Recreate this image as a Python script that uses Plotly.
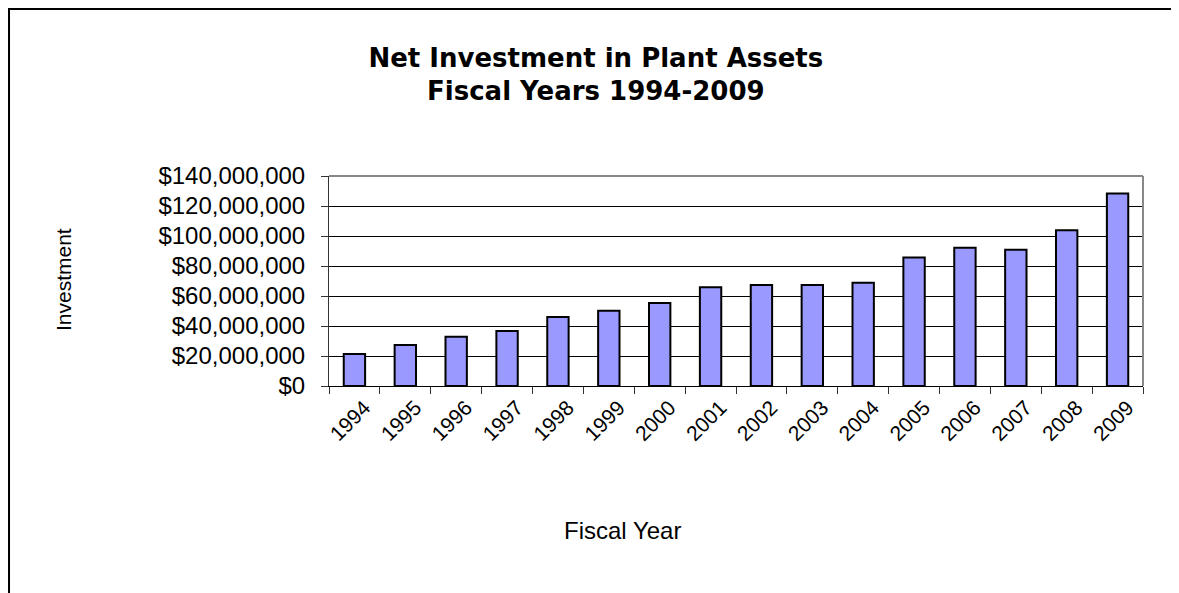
import plotly.graph_objects as go

years = ["1994", "1995", "1996", "1997", "1998", "1999", "2000", "2001",
         "2002", "2003", "2004", "2005", "2006", "2007", "2008", "2009"]
investment = [21.3e6, 27.3e6, 32.9e6, 36.7e6, 46.0e6, 50.2e6, 55.3e6, 65.8e6,
              67.3e6, 67.3e6, 68.9e6, 85.6e6, 92.2e6, 90.9e6, 103.8e6, 128.4e6]
y_ticks = [0, 20e6, 40e6, 60e6, 80e6, 100e6, 120e6, 140e6]
y_tick_labels = ["$0", "$20,000,000", "$40,000,000", "$60,000,000", "$80,000,000",
                 "$100,000,000", "$120,000,000", "$140,000,000"]

font_family = "Liberation Sans, Arial, sans-serif"

fig = go.Figure()

fig.add_trace(go.Bar(
    x=years,
    y=investment,
    marker=dict(color="#9999FF", line=dict(color="black", width=2)),
    name="Investment",
))

fig.update_layout(
    width=1171,
    height=585,
    margin=dict(l=321, r=36, t=168, b=207),
    paper_bgcolor="white",
    plot_bgcolor="white",
    showlegend=False,
    bargap=0.58,
    font=dict(family=font_family, color="black"),
    title=dict(
        text="<b>Net Investment in Plant Assets<br>Fiscal Years 1994-2009</b>",
        x=0.502, xanchor="center",
        y=0.900, yanchor="middle",
        font=dict(size=26, family="DejaVu Sans, sans-serif", color="black"),
    ),
    xaxis=dict(
        type="category",
        tickangle=-45,
        tickfont=dict(size=21),
        ticks="outside",
        tickson="boundaries",
        ticklen=7,
        ticklabelshift=10,
        tickcolor="#333333",
        showline=True,
        linecolor="black",
        linewidth=1,
        showgrid=False,
    ),
    yaxis=dict(
        range=[0, 140e6],
        tickvals=y_ticks,
        ticktext=y_tick_labels,
        tickfont=dict(size=24),
        ticks="outside",
        ticklen=7,
        ticklabelstandoff=11,
        tickcolor="#333333",
        showline=True,
        linecolor="#333333",
        linewidth=1,
        showgrid=True,
        gridcolor="black",
        gridwidth=1,
        zeroline=False,
    ),
    annotations=[
        dict(text="Fiscal Year", xref="paper", yref="paper", x=0.36, y=-0.761,
             showarrow=False, font=dict(size=24)),
        dict(text="Investment", xref="paper", yref="paper", x=-0.342, y=0.505,
             textangle=-90, showarrow=False, font=dict(size=21)),
    ],
    shapes=[
        # grey plot-area border, top and right
        dict(type="line", xref="paper", yref="paper", x0=0, x1=1, y0=1, y1=1,
             line=dict(color="#888888", width=2), layer="above"),
        dict(type="line", xref="paper", yref="paper", x0=1, x1=1, y0=0, y1=1,
             line=dict(color="#888888", width=2), layer="above"),
        # outer chart frame (cropped at right and bottom)
        dict(type="rect", xref="paper", yref="paper", x0=-0.3931, x1=1.2,
             y0=-1.3, y1=1.795, line=dict(color="black", width=2)),
    ],
)

fig.write_html("out.html")
